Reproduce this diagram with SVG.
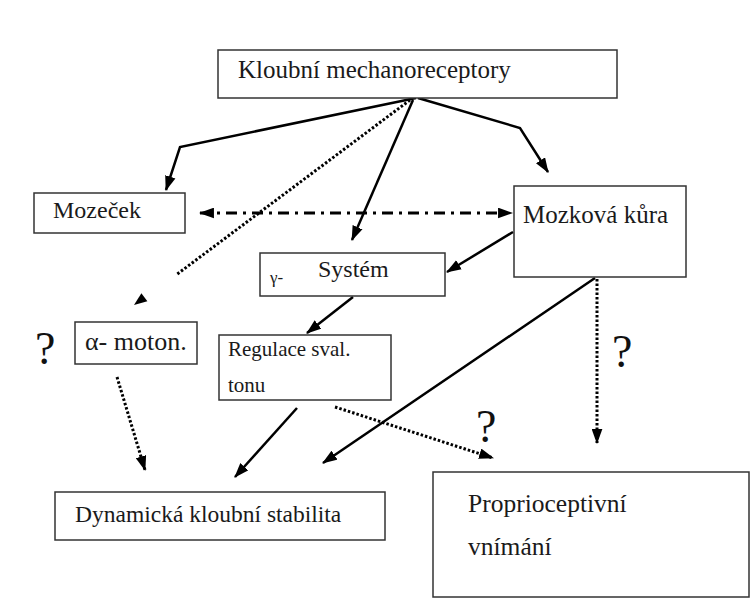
<svg xmlns="http://www.w3.org/2000/svg" width="752" height="608" viewBox="0 0 752 608">
<style>
.box{fill:#fff;stroke:#333;stroke-width:1.5}
.t{font-family:"Liberation Serif","DejaVu Serif",serif;font-size:24px;fill:#1a1a1a}
.q{font-family:"Liberation Serif","DejaVu Serif",serif;font-size:46px;fill:#111}
.solid{fill:none;stroke:#000;stroke-width:2.5}
.dot{fill:none;stroke:#000;stroke-width:3;stroke-dasharray:2.5 2}
.dashdot{fill:none;stroke:#000;stroke-width:3;stroke-dasharray:11 6 3 6}
</style>
<defs>
<marker id="ah" viewBox="0 0 14 10" refX="13" refY="5" markerWidth="15" markerHeight="11" markerUnits="userSpaceOnUse" orient="auto-start-reverse">
<path d="M0,0 L14,5 L0,10 z" fill="#000"/>
</marker>
</defs>
<rect width="752" height="608" fill="#fff"/>
<g id="connectors">
<path class="solid" d="M416,98 L180,147 L166,190" marker-end="url(#ah)"/>
<path class="solid" d="M418,98 L520,128 L548,172" marker-end="url(#ah)"/>
<path class="solid" d="M413,100 L352,240" marker-end="url(#ah)"/>
<path class="dot" d="M410,100 L176,275"/>
<polygon points="134,305 147.4,301.2 141.4,293.2" fill="#000"/>
<path class="dashdot" d="M200,213 L512,213" marker-start="url(#ah)" marker-end="url(#ah)"/>
<path class="solid" d="M513,232 L447,272" marker-end="url(#ah)"/>
<path class="solid" d="M353,297 L307,333" marker-end="url(#ah)"/>
<path class="dot" d="M117,377 L145,470" marker-end="url(#ah)"/>
<path class="solid" d="M297,408 L235,477" marker-end="url(#ah)"/>
<path class="solid" d="M595,278 L323,463" marker-end="url(#ah)"/>
<path class="dot" d="M335,407 L493,458" marker-end="url(#ah)"/>
<path class="dot" d="M597,279 L597,443" marker-end="url(#ah)"/>
</g>
<g id="kloubni">
<rect class="box" x="218" y="50" width="399" height="48"/>
<text class="t" x="238" y="78" style="font-size:25px">Kloubní mechanoreceptory</text>
</g>
<g id="mozecek">
<rect class="box" x="34" y="193" width="151" height="40"/>
<text class="t" x="53" y="218">Mozeček</text>
</g>
<g id="kura">
<rect class="box" x="514" y="186" width="172" height="91"/>
<text class="t" x="523" y="223" style="font-size:25px">Mozková kůra</text>
</g>
<g id="gama">
<rect class="box" x="260" y="253" width="185" height="43"/>
<text class="t" x="270" y="283" style="font-size:17px">γ-</text>
<text class="t" x="318" y="277">Systém</text>
</g>
<g id="alfa">
<rect class="box" x="75" y="322" width="122" height="42"/>
<text class="t" x="85" y="350" style="font-size:26px">α- moton.</text>
</g>
<g id="regulace">
<rect class="box" x="219" y="335" width="172" height="65"/>
<text class="t" x="228" y="356" style="font-size:21px">Regulace sval.</text>
<text class="t" x="228" y="392" style="font-size:21px">tonu</text>
</g>
<g id="dynamicka">
<rect class="box" x="55" y="492" width="330" height="48"/>
<text class="t" x="75" y="522" style="font-size:23.5px">Dynamická kloubní stabilita</text>
</g>
<g id="proprio">
<rect class="box" x="433" y="472" width="316" height="125"/>
<text class="t" x="468" y="512" style="font-size:25.5px">Proprioceptivní</text>
<text class="t" x="468" y="555" style="font-size:25.5px">vnímání</text>
</g>
<g id="questions">
<text class="q" x="35" y="364">?</text>
<text class="q" x="612" y="367">?</text>
<text class="q" x="476" y="442">?</text>
</g>
</svg>
